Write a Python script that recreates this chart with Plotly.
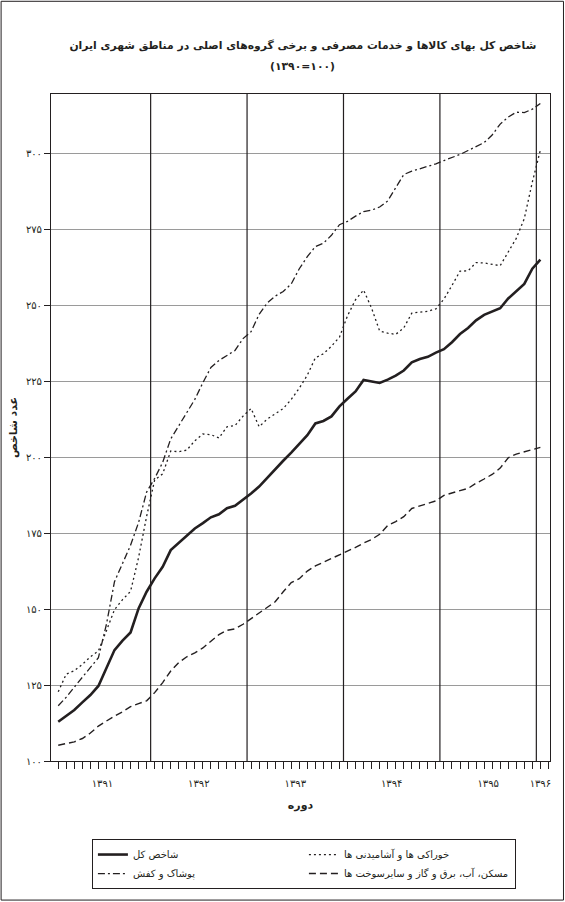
import plotly.graph_objects as go

# monthly index values, farvardin 1391 .. farvardin 1396 (1390=100)
years = ['۱۳۹۱', '۱۳۹۲', '۱۳۹۳', '۱۳۹۴', '۱۳۹۵', '۱۳۹۶']
months_per_year = [12, 12, 12, 12, 12, 1]

total = [112.9, 115.0, 116.8, 119.3, 121.7, 124.7, 130.5, 136.5, 139.6, 142.3, 150.2, 155.7,
         160.1, 163.9, 169.4, 171.8, 174.0, 176.5, 178.3, 180.2, 181.2, 183.2, 184.0, 185.9,
         188.0, 190.3, 193.2, 196.1, 198.8, 201.5, 204.3, 207.2, 211.1, 211.9, 213.4, 216.7,
         219.2, 221.6, 225.4, 224.9, 224.4, 225.5, 226.8, 228.5, 231.2, 232.3, 233.0, 234.4,
         235.5, 237.8, 240.5, 242.5, 245.0, 246.8, 247.8, 249.0, 252.2, 254.5, 257.0, 262.0,
         265.0]
food = [122.8, 128.6, 129.7, 131.8, 134.3, 136.2, 142.9, 149.8, 153.1, 155.8, 167.0, 180.5,
        192.5, 194.5, 202.0, 201.8, 202.3, 205.4, 207.6, 207.4, 206.3, 210.0, 210.4, 213.5,
        216.0, 210.0, 212.5, 214.3, 216.0, 219.0, 222.7, 227.0, 232.7, 234.0, 236.5, 239.5,
        246.5, 251.8, 255.0, 249.0, 241.5, 240.8, 240.4, 242.5, 247.4, 247.7, 248.0, 248.8,
        252.0, 256.5, 261.2, 261.3, 264.0, 263.9, 263.4, 263.0, 267.5, 272.0, 278.5, 290.5,
        301.0]
clothing = [118.2, 121.0, 124.3, 127.6, 130.6, 134.0, 145.0, 159.0, 165.0, 171.0, 178.5, 188.5,
            193.0, 198.3, 206.0, 210.3, 214.5, 219.0, 224.5, 229.5, 231.8, 233.4, 235.1, 239.0,
            241.3, 247.0, 250.7, 253.0, 254.5, 257.0, 262.0, 266.0, 269.3, 270.4, 273.0, 276.5,
            277.6, 279.3, 280.8, 281.3, 282.3, 284.3, 288.5, 293.0, 294.1, 294.9, 295.8, 296.5,
            297.6, 298.6, 299.6, 300.9, 302.2, 303.5, 306.0, 309.6, 311.9, 313.5, 313.4, 314.5,
            316.4]
housing = [105.2, 105.8, 106.3, 107.4, 109.2, 111.5, 113.2, 114.8, 116.2, 117.9, 118.9, 119.8,
           122.5, 125.8, 129.6, 132.4, 134.3, 135.6, 137.2, 139.3, 141.6, 143.0, 143.5, 145.0,
           146.8, 148.8, 150.6, 152.4, 155.7, 158.7, 160.0, 162.5, 164.2, 165.4, 166.5, 167.7,
           169.0, 170.3, 171.7, 172.9, 174.6, 177.5, 178.8, 180.4, 183.1, 184.0, 184.9, 185.6,
           187.4, 188.3, 189.0, 189.7, 191.4, 192.8, 194.3, 196.4, 199.8, 201.0, 201.8, 202.6,
           203.2]
y_ticks = [100, 125, 150, 175, 200, 225, 250, 275, 300]

FONT = 'DejaVu Sans'
INK = '#231f20'


def fa_digits(n):
    return str(n).translate(str.maketrans('0123456789', '۰۱۲۳۴۵۶۷۸۹'))


x = list(range(len(total)))

# year label in the middle of its months, black rule between years
year_mid = []
year_edges = []
start = 0
for n in months_per_year:
    year_mid.append(start + (n - 1) / 2)
    start += n
    year_edges.append(start - 0.5)
year_edges = year_edges[:-1]

fig = go.Figure()
series = [
    ('شاخص کل', total, 'solid', 2.6),
    ('خوراکی ها و آشامیدنی ها', food, '2px,3px', 1.3),
    ('پوشاک و کفش', clothing, '7px,3px,2px,3px', 1.3),
    ('مسکن، آب، برق و گاز و سایرسوخت ها', housing, '7px,4px', 1.4),
]
for name, vals, dash, width in series:
    fig.add_trace(go.Scatter(x=x, y=vals, name=name, mode='lines',
                             line=dict(color=INK, width=width, dash=dash)))

for e in year_edges:
    fig.add_shape(type='line', xref='x', yref='paper', x0=e, x1=e, y0=0, y1=1,
                  line=dict(color=INK, width=1.2))

# thin frame round the whole picture
fig.add_shape(type='rect', xref='paper', yref='paper',
              x0=-0.1, x1=1.027, y0=-0.2085, y1=1.139,
              line=dict(color=INK, width=1))

fig.add_annotation(text='<b>(۱۳۹۰=۱۰۰)</b>', xref='paper', yref='paper',
                   x=0.505, y=1.0405, xanchor='center', yanchor='middle',
                   showarrow=False, font=dict(size=10.8, family=FONT, color=INK))

fig.update_layout(
    width=565, height=902,
    margin=dict(l=51, r=15, t=94, b=141, autoexpand=False),
    paper_bgcolor='white', plot_bgcolor='white',
    font=dict(family=FONT, color=INK, size=10),
    title=dict(text='<b>شاخص کل بهای کالاها و خدمات مصرفی و برخی گروه‌های اصلی در مناطق شهری ایران</b>',
               x=0.536, xanchor='center', y=1 - 45 / 902, yanchor='middle',
               font=dict(size=10.8, family=FONT, color=INK)),
    showlegend=True,
    legend=dict(orientation='h', x=0.082, xanchor='left', y=-0.117, yanchor='top',
                entrywidth=166, bordercolor=INK, borderwidth=1, bgcolor='white',
                font=dict(size=10, family=FONT, color=INK), traceorder='normal'),
)

fig.update_xaxes(
    range=[-0.9, 61.2], showgrid=False, zeroline=False,
    showline=True, linecolor=INK, linewidth=1, mirror=True,
    tickmode='array', tickvals=year_mid, ticktext=years,
    ticks='outside', ticklen=13, tickcolor='rgba(0,0,0,0)',
    tickfont=dict(size=10, color=INK),
    minor=dict(tick0=0, dtick=1, ticks='outside', ticklen=7, tickcolor=INK, showgrid=False),
    title=dict(text='<b>دوره</b>', font=dict(size=11), standoff=13),
)
fig.update_yaxes(
    range=[100, 319.5], zeroline=False,
    showline=True, linecolor=INK, linewidth=1, mirror=True,
    showgrid=True, gridcolor='#9a9a9a', gridwidth=1,
    tickmode='array', tickvals=y_ticks, ticktext=[fa_digits(v) for v in y_ticks],
    ticks='outside', ticklen=6, tickcolor=INK,
    tickfont=dict(size=10, color=INK),
    title=dict(text='<b>عدد شاخص</b>', font=dict(size=11), standoff=6),
)

# the page body has a default 8px margin; drop it so the figure sits at 0,0
fig.write_html('out.html', config={'displayModeBar': False},
               post_script="document.body.style.margin='0';")
